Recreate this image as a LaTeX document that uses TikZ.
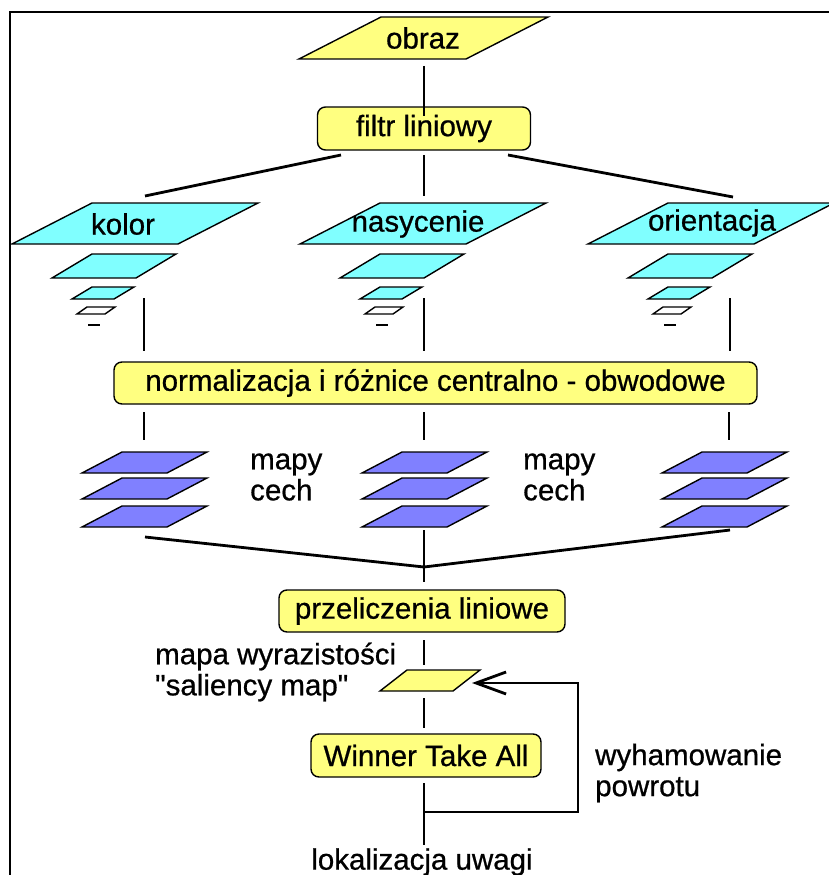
\documentclass[tikz,border=0pt]{standalone}
\usepackage{fontspec}
\newfontfamily\lsans[FakeBold=0.7]{Liberation Sans}
\usetikzlibrary{arrows.meta}
\definecolor{yel}{HTML}{FFFF80}
\definecolor{cya}{HTML}{80FFFF}
\definecolor{blu}{HTML}{8080FF}
% name, bx, by, w, skew, h, fill
\newcommand\pgram[7]{\filldraw[edge,fill=#7] (#2,#3) coordinate (#1-bl) -- ++(#4,0) coordinate (#1-br) -- ++(#5,-#6) coordinate (#1-tr) -- ++(-#4,0) coordinate (#1-tl) -- cycle;}
\newcommand\cstack[2]{%
 \pgram{#1a}{#2}{244}{166}{80}{41}{cya}
 \pgram{#1b}{#2+40}{278}{84}{40}{24}{cya}
 \pgram{#1c}{#2+60}{299}{42}{20}{12}{cya}
 \pgram{#1d}{#2+65}{314}{28}{10}{7}{white}
 \draw[edge] (#2+76,325) coordinate (#1-d1) -- (#2+88,325) coordinate (#1-d2);}
\newcommand\bstack[2]{%
 \pgram{#1a}{#2}{473}{85}{40}{21}{blu}
 \pgram{#1b}{#2}{499}{85}{40}{21}{blu}
 \pgram{#1c}{#2}{527}{85}{40}{21}{blu}}
\begin{document}
\begin{tikzpicture}[x=1pt,y=-1pt,
  conn/.style={line width=2.8pt, black},
  edge/.style={line width=1.4pt, black, line join=miter},
  ybox/.style={draw, line width=1.4pt, fill=yel, rounded corners=8pt, inner sep=0pt, font=\lsans\fontsize{29.5}{31}\selectfont},
  lbl/.style={inner sep=0pt, font=\lsans\fontsize{29.5}{31}\selectfont}
]
\useasboundingbox (0,0) rectangle (829,875);
\fill[white] (0,0) rectangle (829,875);
% frame
\draw[line width=2.8pt] (10,890) coordinate (frA) -- (10,12) coordinate (frB) -- (840,12) coordinate (frC);

% obraz
\pgram{ob}{299}{59}{167}{82}{42}{yel}
\node[lbl] (obraz) at (423,38) {obraz};

% filtr
\node[ybox, minimum width=213, minimum height=43] (filtr) at (424,128.5) {filtr liniowy};
\coordinate (obS) at (424,66);
\draw[conn] (obS) -- ([yshift=-10]filtr.north);

% cyan stacks
\cstack{k}{12}
\cstack{n}{300}
\cstack{o}{588}
\node[lbl] (kolor) at (123,224) {kolor};
\node[lbl] (nasycenie) at (418,224) {nasycenie};
\node[lbl] (orientacja) at (712,223) {orientacja};

\coordinate (fL) at (341,155);
\coordinate (fR) at (508,155);
\coordinate (fC) at (424,155);
\coordinate (kT) at (145,196);
\coordinate (nT) at (424,196);
\coordinate (oT) at (733,197);
\draw[conn] (fL) -- (kT);
\draw[conn] (fC) -- (nT);
\draw[conn] (fR) -- (oT);

% normalization
\node[ybox, minimum width=643, minimum height=42] (norm) at (435.5,383) {normalizacja i różnice centralno - obwodowe};
\coordinate (kS) at (144,298);
\coordinate (nS) at (424,298);
\coordinate (oS) at (730,298);
\draw[conn] (kS) -- (kS |- 0,351);
\draw[conn] (nS) -- (nS |- 0,351);
\draw[conn] (oS) -- (oS |- 0,351);

% blue stacks
\bstack{bk}{82}
\bstack{bn}{362}
\bstack{bo}{662}
\coordinate (m1) at (144,412);
\coordinate (m2) at (424,412);
\coordinate (m3) at (729,412);
\draw[conn] (m1) -- ++(0,28);
\draw[conn] (m2) -- ++(0,28);
\draw[conn] (m3) -- ++(0,28);
\node[lbl, anchor=west, align=left] (mc1) at (250,477) {mapy\\cech};
\node[lbl, anchor=west, align=left] (mc2) at (523,477) {mapy\\cech};

% merge
\coordinate (jL) at (145,537);
\coordinate (jR) at (730,530);
\coordinate (jC) at (424,530);
\coordinate (jM) at (424,567);
\draw[conn] (jL) -- (jM) -- (jR);
\draw[conn] (jC) -- (424,582) coordinate (jB);

% przeliczenia
\node[ybox, minimum width=286, minimum height=42] (prz) at (422,611) {przeliczenia liniowe};
\draw[conn] (424,640) coordinate (pS) -- (424,665) coordinate (sT);

% saliency
\pgram{sal}{380}{691}{73}{27}{21}{yel}
\node[lbl, anchor=west, align=left] (saltxt) at (155,672) {mapa wyrazistości\\"saliency map"};
\draw[conn] (424,698) coordinate (sS) -- (424,728) coordinate (wT);

% winner
\node[ybox, minimum width=230, minimum height=43] (wta) at (426,755.5) {Winner Take All};
\coordinate (wS) at (424,783);
\coordinate (loc) at (424,845);
\coordinate (lj) at (424,812);
\draw[conn] (wS) -- (loc);
\coordinate (lr1) at (578,812);
\coordinate (lr2) at (578,683);
\coordinate (tip) at (472,683);
\draw[conn, -{Straight Barb[length=30pt,width=22pt,line width=2.8pt]}] (lj) -- (lr1) -- (lr2) -- (tip);
\node[lbl, anchor=west, align=left] (wyh) at (595,773) {wyhamowanie\\powrotu};
\node[lbl] (lok) at (422,862) {lokalizacja uwagi};
\end{tikzpicture}
\end{document}
